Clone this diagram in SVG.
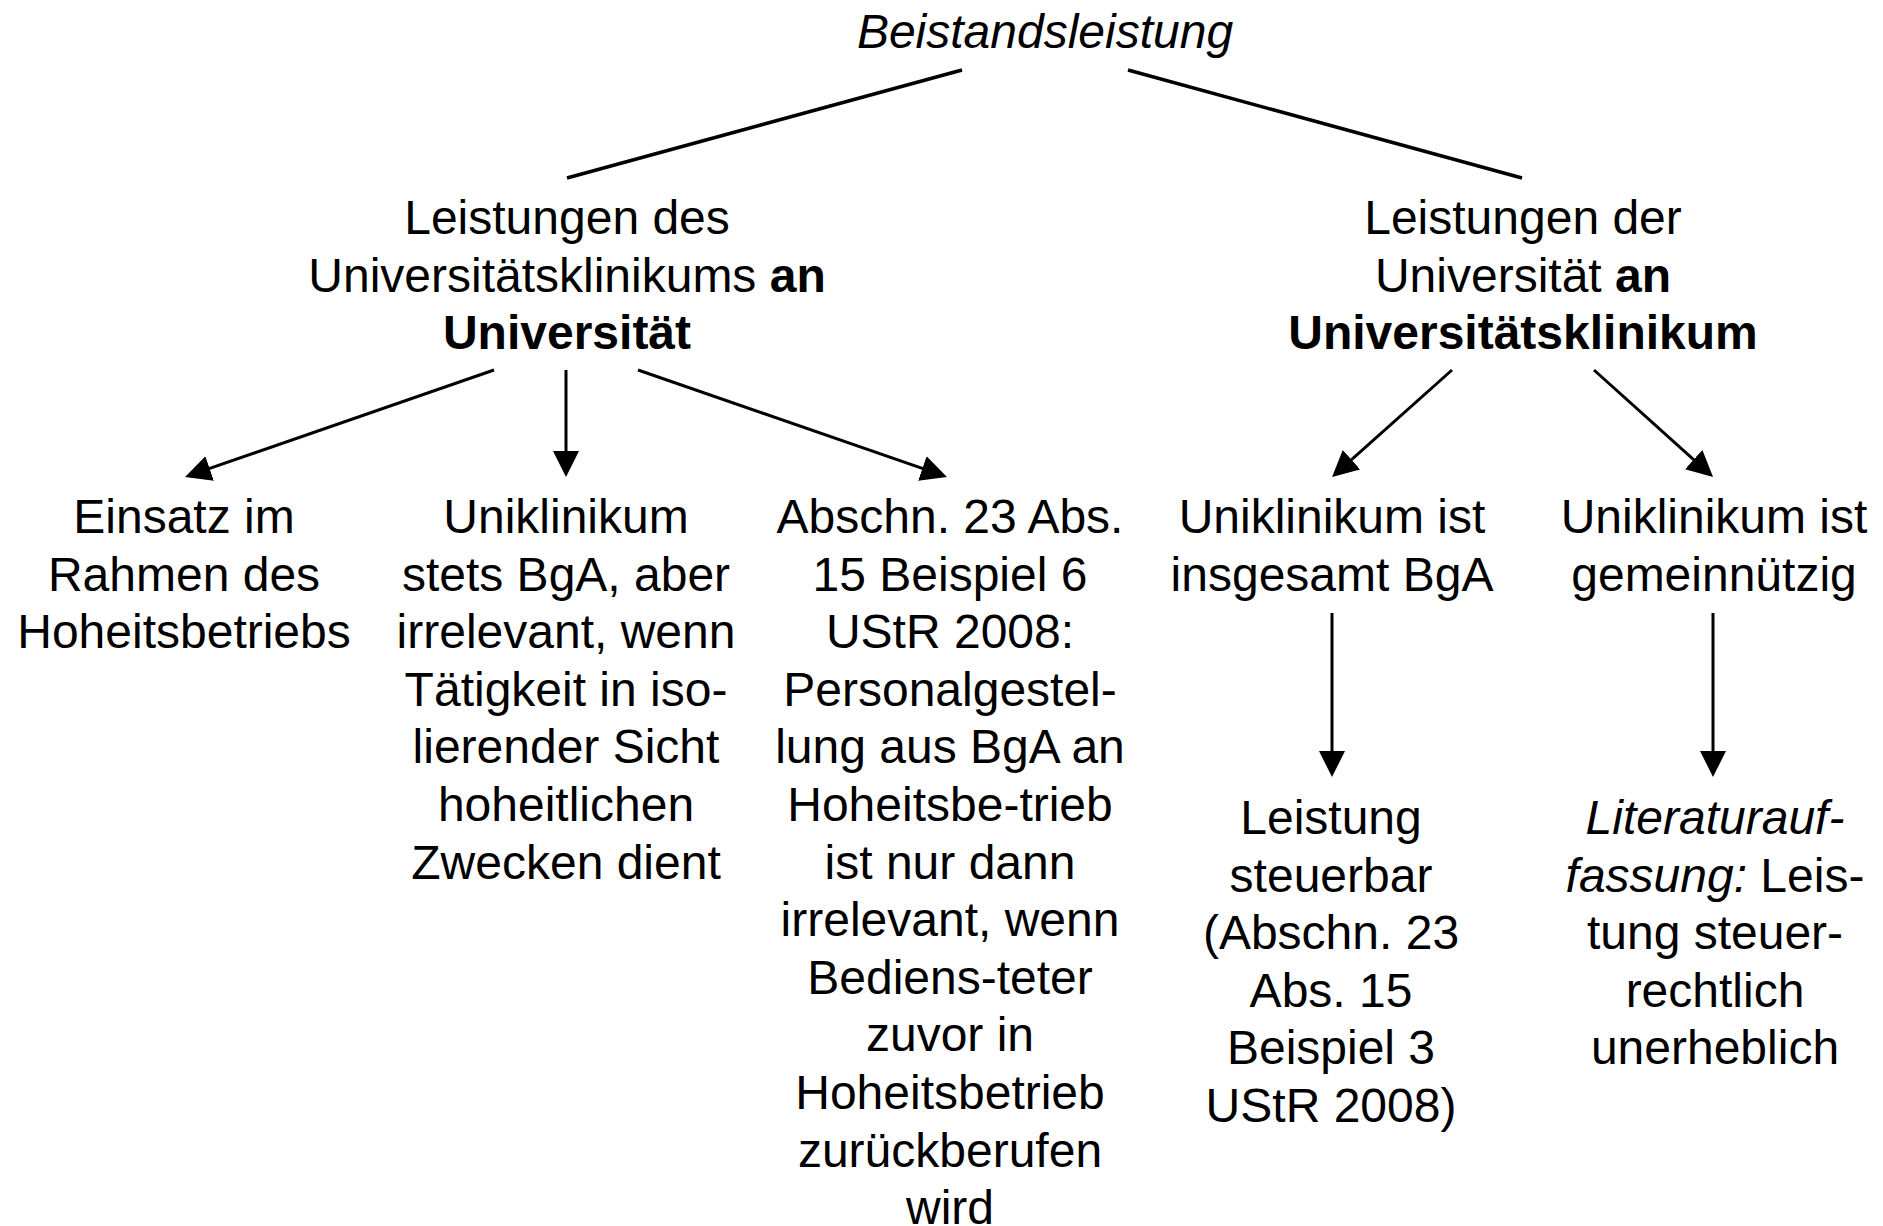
<svg xmlns="http://www.w3.org/2000/svg" width="1883" height="1226" viewBox="0 0 1883 1226">
<defs>
<style>
text{font-family:"Liberation Sans",Arial,sans-serif;font-size:48px;fill:#000;text-anchor:middle}
.b{font-weight:bold}
.i{font-style:italic}
.ln{stroke:#000;stroke-width:3.5;fill:none}
.ar{stroke:#000;stroke-width:3;fill:none;marker-end:url(#ah)}
</style>
<marker id="ah" markerUnits="userSpaceOnUse" markerWidth="26" markerHeight="26" viewBox="0 0 26 26" refX="16" refY="13" orient="auto">
<path d="M0,0 L26,13 L0,26 z" fill="#000"/>
</marker>
</defs>
<rect width="1883" height="1226" fill="#fff"/>
<g id="connectors">
<line class="ln" x1="962" y1="70" x2="567" y2="178"/>
<line class="ln" x1="1128" y1="70" x2="1522" y2="178"/>
<line class="ar" x1="494" y1="370" x2="194.5" y2="473.7"/>
<line class="ar" x1="566" y1="370" x2="566" y2="467"/>
<line class="ar" x1="638" y1="370" x2="937.5" y2="473.7"/>
<line class="ar" x1="1452" y1="370" x2="1339.5" y2="470.3"/>
<line class="ar" x1="1594" y1="370" x2="1705.6" y2="470.3"/>
<line class="ar" x1="1332" y1="613" x2="1332" y2="767"/>
<line class="ar" x1="1713" y1="613" x2="1713" y2="767"/>
</g>
<g id="root">
<text class="i" x="1045" y="48">Beistandsleistung</text>
</g>
<g id="klinikum-an-uni">
<text x="567" y="234">Leistungen des</text>
<text x="567" y="291.6">Universitätsklinikums <tspan class="b">an</tspan></text>
<text class="b" x="567" y="349.2">Universität</text>
</g>
<g id="uni-an-klinikum">
<text x="1523" y="234">Leistungen der</text>
<text x="1523" y="291.6">Universität <tspan class="b">an</tspan></text>
<text class="b" x="1523" y="349.2">Universitätsklinikum</text>
</g>
<g id="hoheitsbetrieb">
<text x="184" y="533">Einsatz im</text>
<text x="184" y="590.6">Rahmen des</text>
<text x="184" y="648.2">Hoheitsbetriebs</text>
</g>
<g id="stets-bga">
<text x="566" y="533">Uniklinikum</text>
<text x="566" y="590.6">stets BgA, aber</text>
<text x="566" y="648.2">irrelevant, wenn</text>
<text x="566" y="705.8">Tätigkeit in iso-</text>
<text x="566" y="763.4">lierender Sicht</text>
<text x="566" y="821">hoheitlichen</text>
<text x="566" y="878.6">Zwecken dient</text>
</g>
<g id="abschn-23">
<text x="950" y="533">Abschn. 23 Abs.</text>
<text x="950" y="590.6">15 Beispiel 6</text>
<text x="950" y="648.2">UStR 2008:</text>
<text x="950" y="705.8">Personalgestel-</text>
<text x="950" y="763.4">lung aus BgA an</text>
<text x="950" y="821">Hoheitsbe-trieb</text>
<text x="950" y="878.6">ist nur dann</text>
<text x="950" y="936.2">irrelevant, wenn</text>
<text x="950" y="993.8">Bediens-teter</text>
<text x="950" y="1051.4">zuvor in</text>
<text x="950" y="1109">Hoheitsbetrieb</text>
<text x="950" y="1166.6">zurückberufen</text>
<text x="950" y="1224.2">wird</text>
</g>
<g id="insgesamt-bga">
<text x="1332" y="533">Uniklinikum ist</text>
<text x="1332" y="590.6">insgesamt BgA</text>
</g>
<g id="gemeinnuetzig">
<text x="1714" y="533">Uniklinikum ist</text>
<text x="1714" y="590.6">gemeinnützig</text>
</g>
<g id="steuerbar">
<text x="1331" y="834">Leistung</text>
<text x="1331" y="891.6">steuerbar</text>
<text x="1331" y="949.2">(Abschn. 23</text>
<text x="1331" y="1006.8">Abs. 15</text>
<text x="1331" y="1064.4">Beispiel 3</text>
<text x="1331" y="1122">UStR 2008)</text>
</g>
<g id="literatur">
<text class="i" x="1715" y="834">Literaturauf-</text>
<text x="1715" y="891.6"><tspan class="i">fassung:</tspan> Leis-</text>
<text x="1715" y="949.2">tung steuer-</text>
<text x="1715" y="1006.8">rechtlich</text>
<text x="1715" y="1064.4">unerheblich</text>
</g>
</svg>
